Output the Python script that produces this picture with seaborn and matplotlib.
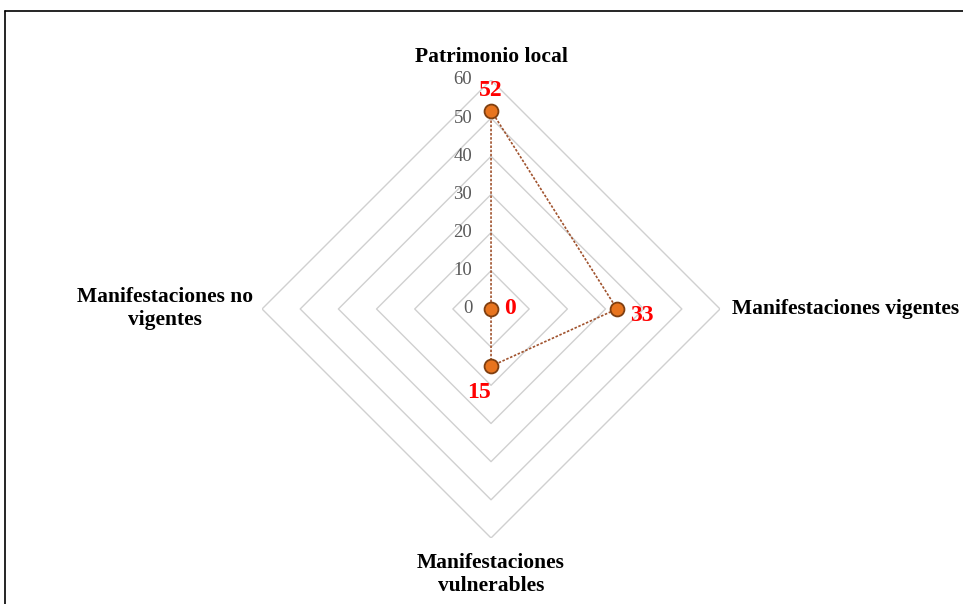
import numpy as np
import pandas as pd
import matplotlib
matplotlib.use("Agg")
import matplotlib.pyplot as plt
import seaborn as sns
from matplotlib.lines import Line2D

categories = ["Patrimonio local", "Manifestaciones vigentes", "Manifestaciones\nvulnerables", "Manifestaciones no\nvigentes"]
values = [52, 33, 15, 0]
grid_levels = [10, 20, 30, 40, 50, 60]
tick_labels = ["0", "10", "20", "30", "40", "50", "60"]

sns.set_theme(style="white")
plt.rcParams['font.family'] = ['Liberation Serif', 'DejaVu Serif']

fig = plt.figure(figsize=(9.63, 6.04), dpi=100)
ax = fig.add_axes([0.2721, 0.1093, 0.4756, 0.7583], projection="polar")
ax.set_theta_offset(np.pi / 2)
ax.set_theta_direction(-1)
ax.set_ylim(0, 60)
ax.grid(False)
ax.set_xticks([])
ax.set_yticks([])
ax.spines["polar"].set_visible(False)
ax.set_facecolor("none")

n = len(categories)
theta = np.arange(n) * 2 * np.pi / n
theta_closed = np.append(theta, theta[0])

# diamond grid
for lv in grid_levels:
    ax.plot(theta_closed, [lv] * (n + 1), color="#D0D0D0", lw=1.0, zorder=1)

df = pd.DataFrame({"theta": theta_closed, "value": values + [values[0]]})
sns.lineplot(data=df, x="theta", y="value", sort=False, ax=ax, color="#A0522D",
             lw=1.2, linestyle=(0, (1.5, 1.0)), zorder=3, estimator=None)
sns.scatterplot(x=theta, y=values, ax=ax, s=100, color="#E8741E",
                edgecolor="#7F3F10", linewidth=1.3, zorder=4)
ax.set_xlabel("")
ax.set_ylabel("")
ax.set_ylim(0, 60)

# radial tick labels
for i, lab in enumerate(tick_labels):
    r = i * 10
    ax.annotate(lab, xy=(0, r), xytext=(-13.5, 0), textcoords="offset points",
                ha="right", va="center", fontsize=13.5, color="#595959")

# data labels
offsets = [(0, 14.5), (18, -4.5), (-9, -19), (13.5, 0)]
for t, v, off in zip(theta, values, offsets):
    ax.annotate(str(v), xy=(t, v), xytext=off, textcoords="offset points",
                ha="center", va="center", fontsize=17, fontweight="bold", color="#FF0000")

# category labels
fs = 15.5
ax.annotate(categories[0], xy=(theta[0], 60), xytext=(0, 16.5), textcoords="offset points",
            ha="center", va="center", fontsize=fs, fontweight="bold", color="black")
ax.annotate(categories[1], xy=(theta[1], 60), xytext=(8.6, 0), textcoords="offset points",
            ha="left", va="center", fontsize=fs, fontweight="bold", color="black")
ax.annotate(categories[2], xy=(theta[2], 60), xytext=(0, -26.5), textcoords="offset points",
            ha="center", va="center", fontsize=fs, fontweight="bold", color="black",
            multialignment="center", linespacing=1.2)
ax.annotate(categories[3], xy=(theta[3], 60), xytext=(-6.5, 0), textcoords="offset points",
            ha="right", va="center", fontsize=fs, fontweight="bold", color="black",
            multialignment="center", linespacing=1.2)

# figure border (top and left visible)
fig.add_artist(Line2D([5 / 963, 5 / 963], [0, 1 - 11 / 604], transform=fig.transFigure,
                      color="black", lw=1.2))
fig.add_artist(Line2D([5 / 963, 1], [1 - 11 / 604, 1 - 11 / 604], transform=fig.transFigure,
                      color="black", lw=1.2))

fig.savefig("out.png", dpi=100)
